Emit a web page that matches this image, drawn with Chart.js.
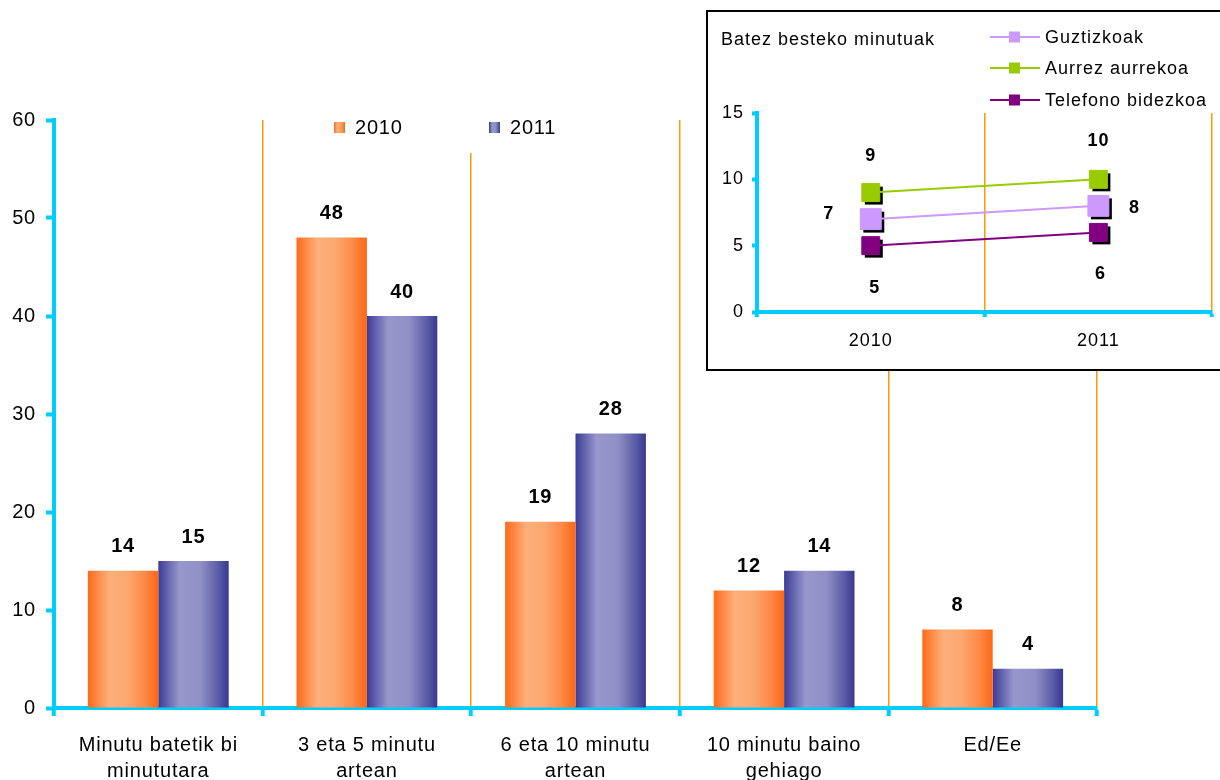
<!DOCTYPE html>
<html>
<head>
<meta charset="utf-8">
<script src="https://cdn.jsdelivr.net/npm/chart.js@4.4.1/dist/chart.umd.min.js"></script>
<style>
html, body { margin: 0; padding: 0; background: #fff; overflow: hidden; }
#wrap { position: relative; width: 1220px; height: 780px; }
#main { position: absolute; left: 0; top: 0; }
#inset { position: absolute; left: 706px; top: 10px; width: 520px; height: 357px; border: 2px solid #000; background: #fff; }
</style>
</head>
<body>
<div id="wrap">
  <canvas id="main" width="1220" height="780" style="width:1220px;height:780px"></canvas>
  <div id="inset"><canvas id="small" width="520" height="357" style="width:520px;height:357px"></canvas></div>
</div>
<script>
// ---- data ----
const categories = [
    ['Minutu batetik bi', 'minututara'],
    ['3 eta 5 minutu', 'artean'],
    ['6 eta 10 minutu', 'artean'],
    ['10 minutu baino', 'gehiago'],
    ['Ed/Ee']
];
const series2010 = [14, 48, 19, 12, 8];
const series2011 = [15, 40, 28, 14, 4];
const seriesNames = ['2010', '2011'];

const insetTitle = 'Batez besteko minutuak';
const insetYears = ['2010', '2011'];
const insetNames = ['Guztizkoak', 'Aurrez aurrekoa', 'Telefono bidezkoa'];
const guztizkoak = [7, 8];
const aurrezAurrekoa = [9, 10];
const telefonoBidezkoa = [5, 6];

// ---- style ----
const FONT = '"Liberation Sans", Arial, sans-serif';
const CYAN = '#00CCFF';
const ORANGE_LINE = '#FF9900';
Chart.defaults.font.family = FONT;
Chart.defaults.color = '#000';
Chart.defaults.animation = false;

const gradStops = {
    '2010': [[0, '#FF6A1A'], [0.3, '#FDAF7A'], [0.55, '#FCA870'], [0.8, '#FE8A48'], [1, '#FF6614']],
    '2011': [[0, '#3B3B97'], [0.3, '#9797CB'], [0.6, '#9090C6'], [0.85, '#5C5CA8'], [1, '#38388F']]
};

function hGrad(ctx, x0, x1, stops) {
    const g = ctx.createLinearGradient(x0, 0, x1, 0);
    stops.forEach(s => g.addColorStop(s[0], s[1]));
    return g;
}

// text in the original is slightly spread out
function spacing(px) {
    return { id: 'spacing', beforeDraw(chart) { chart.ctx.letterSpacing = px; } };
}

// bars get a horizontal gradient once their positions are known
const barStyle = {
    id: 'barStyle',
    beforeDatasetsDraw(chart) {
        const ctx = chart.ctx;
        chart.data.datasets.forEach((ds, di) => {
            chart.getDatasetMeta(di).data.forEach(el => {
                const x0 = el.x - el.width / 2, x1 = el.x + el.width / 2;
                el.options.backgroundColor = hGrad(ctx, x0, x1, gradStops[ds.label]);
            });
        });
    }
};

const mainLabels = {
    id: 'mainLabels',
    afterDatasetsDraw(chart) {
        const ctx = chart.ctx;
        ctx.save();
        ctx.font = 'bold 20px ' + FONT;
        ctx.fillStyle = '#000';
        ctx.textAlign = 'center';
        ctx.textBaseline = 'middle';
        chart.data.datasets.forEach((ds, di) => {
            chart.getDatasetMeta(di).data.forEach((el, i) => {
                ctx.fillText(ds.data[i], el.x, el.y - 24);
            });
        });
        ctx.restore();
    }
};

const mainLegend = {
    id: 'mainLegend',
    afterDraw(chart) {
        const ctx = chart.ctx;
        ctx.save();
        ctx.fillStyle = '#fff';
        ctx.fillRect(322, 108, 256, 45);
        const xs = [334, 489];
        ctx.font = '20px ' + FONT;
        ctx.textBaseline = 'middle';
        seriesNames.forEach((name, i) => {
            ctx.fillStyle = hGrad(ctx, xs[i], xs[i] + 11, gradStops[name]);
            ctx.fillRect(xs[i], 122, 11, 11);
            ctx.fillStyle = '#000';
            ctx.fillText(name, xs[i] + 21, 128);
        });
        ctx.restore();
    }
};

new Chart(document.getElementById('main'), {
    type: 'bar',
    data: {
        labels: categories,
        datasets: [
            { label: seriesNames[0], data: series2010, backgroundColor: c => '#FF6A1A' },
            { label: seriesNames[1], data: series2011, backgroundColor: c => '#3B3B97' }
        ]
    },
    options: {
        responsive: false,
        events: [],
        layout: { padding: { top: 120, right: 123, left: 0, bottom: 0 } },
        datasets: { bar: { categoryPercentage: 0.675, barPercentage: 1 } },
        plugins: { legend: { display: false }, tooltip: { enabled: false } },
        scales: {
            x: {
                grid: { offset: true, color: ORANGE_LINE, lineWidth: 1.5, tickLength: 8, tickColor: CYAN, tickWidth: 4 },
                border: { color: CYAN, width: 4 },
                ticks: { font: { size: 20, lineHeight: 1.3 }, padding: 16, maxRotation: 0, autoSkip: false },
                afterFit: s => { s.height = 72; }
            },
            y: {
                min: 0, max: 60,
                ticks: { stepSize: 10, font: { size: 20 }, padding: 10 },
                grid: { drawOnChartArea: false, tickLength: 8, tickColor: CYAN, tickWidth: 4, color: CYAN },
                border: { color: CYAN, width: 4 },
                afterFit: s => { s.width = 54; }
            }
        }
    },
    plugins: [spacing('0.8px'), barStyle, mainLabels, mainLegend]
});

// ---- inset ----
const markerShadow = {
    id: 'markerShadow',
    beforeDatasetDraw(chart, args) {
        const ctx = chart.ctx;
        ctx.save();
        ctx.fillStyle = '#000';
        args.meta.data.forEach(el => {
            const s = Math.SQRT1_2 * el.options.radius;
            ctx.fillRect(el.x - s + 3, el.y - s + 3, 2 * s, 2 * s);
        });
        ctx.restore();
    }
};

const insetLabels = {
    id: 'insetLabels',
    afterDatasetsDraw(chart) {
        const ctx = chart.ctx;
        ctx.save();
        ctx.font = 'bold 18px ' + FONT;
        ctx.fillStyle = '#000';
        ctx.textAlign = 'center';
        ctx.textBaseline = 'middle';
        chart.data.datasets.forEach((ds, di) => {
            chart.getDatasetMeta(di).data.forEach((el, i) => {
                ctx.fillText(ds.data[i], el.x + ds.lblDx[i], el.y + ds.lblDy[i]);
            });
        });
        ctx.restore();
    }
};

const insetLegend = {
    id: 'insetLegend',
    afterDraw(chart) {
        const ctx = chart.ctx;
        ctx.save();
        ctx.font = '18px ' + FONT;
        ctx.textBaseline = 'middle';
        ctx.fillStyle = '#000';
        ctx.fillText(insetTitle, 13, 28);
        const ys = [25, 56, 88];
        chart.data.datasets.forEach((ds, i) => {
            ctx.strokeStyle = ds.borderColor;
            ctx.lineWidth = 2;
            ctx.beginPath();
            ctx.moveTo(282, ys[i]);
            ctx.lineTo(332, ys[i]);
            ctx.stroke();
            ctx.fillStyle = ds.borderColor;
            ctx.fillRect(301, ys[i] - 5.5, 11, 11);
            ctx.fillStyle = '#000';
            ctx.fillText(ds.label, 337, ys[i] + 1);
        });
        ctx.restore();
    }
};

new Chart(document.getElementById('small'), {
    type: 'line',
    data: {
        labels: insetYears,
        datasets: [
            { label: insetNames[0], data: guztizkoak, borderColor: '#CC99FF', backgroundColor: '#CC99FF',
              pointBorderColor: '#CC99FF', pointRadius: 14.8, lblDx: [-42, 36], lblDy: [-5, 2] },
            { label: insetNames[1], data: aurrezAurrekoa, borderColor: '#99CC00', backgroundColor: '#99CC00',
              pointBorderColor: '#99CC00', pointRadius: 12.7, lblDx: [0, 0], lblDy: [-37, -38] },
            { label: insetNames[2], data: telefonoBidezkoa, borderColor: '#800080', backgroundColor: '#800080',
              pointBorderColor: '#800080', pointRadius: 12.7, lblDx: [4, 2], lblDy: [42, 42] }
        ]
    },
    options: {
        responsive: false,
        events: [],
        layout: { padding: { top: 101, right: 11, left: 0, bottom: 0 } },
        elements: { line: { borderWidth: 2, tension: 0 }, point: { pointStyle: 'rect', borderWidth: 1 } },
        plugins: { legend: { display: false }, tooltip: { enabled: false } },
        scales: {
            x: {
                offset: true,
                grid: { offset: true, color: ORANGE_LINE, lineWidth: 1.5, tickLength: 5, tickColor: CYAN, tickWidth: 4 },
                border: { color: CYAN, width: 4 },
                ticks: { font: { size: 18 }, padding: 13 },
                afterFit: s => { s.height = 57; }
            },
            y: {
                min: 0, max: 15,
                ticks: { stepSize: 5, font: { size: 18 }, padding: 8 },
                grid: { drawOnChartArea: false, tickLength: 5, tickColor: CYAN, tickWidth: 4, color: CYAN },
                border: { color: CYAN, width: 4 },
                afterFit: s => { s.width = 49; }
            }
        }
    },
    plugins: [spacing('1px'), markerShadow, insetLabels, insetLegend]
});
</script>
</body>
</html>
